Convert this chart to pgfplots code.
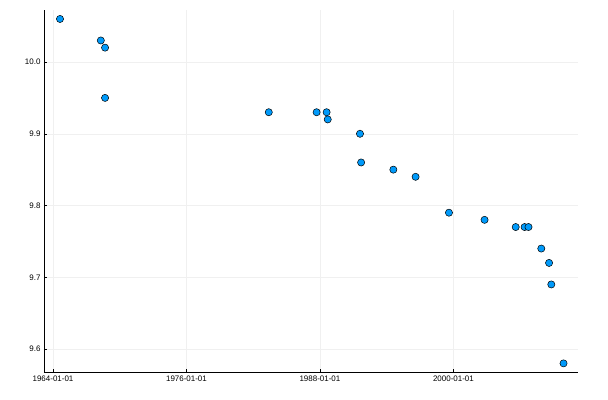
\documentclass[border=0pt]{standalone}
\usepackage{pgfplots}
\pgfplotsset{compat=1.18}
\usepackage{fontspec}
\setmainfont{Liberation Sans}
\definecolor{jblue}{HTML}{009AFA}
\begin{document}
\begin{tikzpicture}
\begin{axis}[
  scale only axis, width=534bp, height=362bp,
  xmin=-0.81, xmax=47.2, ymin=9.568, ymax=10.0725,
  axis x line*=bottom, axis y line*=left,
  xtick={0,12,24,36}, xticklabels={1964-01-01,1976-01-01,1988-01-01,2000-01-01},
  ytick={9.6,9.7,9.8,9.9,10.0},
  yticklabel style={/pgf/number format/.cd,fixed,fixed zerofill,precision=1},
  /pgf/number format/assume math mode=true,
  ticklabel style={font=\fontsize{8}{9}\selectfont},
  grid=major, grid style={gray!12, line width=0.5pt},
  tick style={black, line width=0.5pt}, tick align=inside,
  major tick length=3bp,
  axis line style={black, line width=0.6pt},
  clip=false,
]
\addplot[only marks, mark=*, mark size=3.6bp, mark options={fill=jblue, draw=black, line width=0.5pt}] coordinates {
(0.63,10.06) (4.3,10.03) (4.68,10.02) (4.68,9.95)
(19.4,9.93) (23.7,9.93) (24.6,9.93) (24.7,9.92)
(27.6,9.90) (27.7,9.86) (30.6,9.85) (32.6,9.84)
(35.6,9.79) (38.8,9.78) (41.6,9.77) (42.4,9.77) (42.75,9.77)
(43.9,9.74) (44.6,9.72) (44.8,9.69) (45.9,9.58)
};
\path (axis description cs:-0.0824,-0.0773) rectangle (axis description cs:1.0562,1.0276);
\end{axis}
\end{tikzpicture}
\end{document}
